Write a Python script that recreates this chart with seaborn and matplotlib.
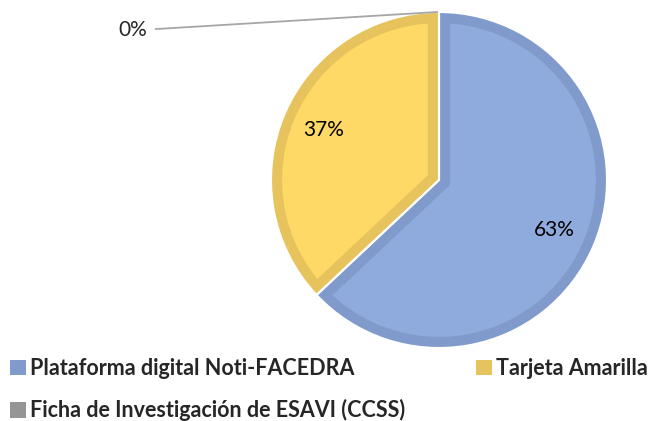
import matplotlib
matplotlib.use("Agg")
import matplotlib.pyplot as plt
from matplotlib.patches import Patch
import seaborn as sns

# data
categories = ["Plataforma digital Noti-FACEDRA", "Tarjeta Amarilla",
              "Ficha de Investigación de ESAVI (CCSS)"]
shares = [63, 37, 0]

fill_colors = ["#8FAADC", "#FFD966", "#A5A5A5"]
edge_colors = ["#7F9ACB", "#E6C35C", "#959595"]

sns.set_theme(style="white")
plt.rcParams["font.family"] = ["Lato", "DejaVu Sans"]

fig = plt.figure(figsize=(6.49, 4.21), dpi=100)
# square axes holding the pie, placed in figure fractions
ax = fig.add_axes([271 / 649, 73 / 421, 336 / 649, 336 / 421])

wedges, texts, autotexts = ax.pie(
    shares, colors=fill_colors, startangle=90, counterclock=False,
    autopct="%1.0f%%", pctdistance=0.75, radius=1.0,
    wedgeprops=dict(linewidth=0),
    textprops=dict(fontsize=15, color="#000000"),
)
# darker inner border on each wedge (stroke clipped to the wedge itself)
for w, ec in zip(wedges, edge_colors):
    w.set_edgecolor(ec)
    w.set_linewidth(16)
    w.set_clip_on(True)
    w.set_clip_path(w)
# thin white separators
ax.pie(shares, colors=["none"] * 3, startangle=90, counterclock=False,
       radius=1.0, wedgeprops=dict(linewidth=1.5, edgecolor="white"))

# the 0% label sits outside with a leader line
zero = autotexts[2]
zero.set_visible(False)
ax.annotate("0%", xy=(-0.01, 1.0), xytext=(-1.74, 0.89), fontsize=15,
            ha="right", va="center", annotation_clip=False,
            arrowprops=dict(arrowstyle="-", color="#A6A6A6", lw=1.3,
                            shrinkA=4, shrinkB=0))
ax.set_xlim(-1, 1)
ax.set_ylim(-1, 1)
ax.set_aspect("equal")
ax.axis("off")

handles = [Patch(facecolor=c, edgecolor="none") for c in edge_colors]
order = [0, 2, 1]
fig.legend([handles[i] for i in order], [categories[i] for i in order],
           ncol=2, loc="lower left", bbox_to_anchor=(-0.014, -0.047),
           frameon=False, prop=dict(weight="bold", size=15.5),
           handlelength=0.72, handleheight=0.72, handletextpad=0.2,
           labelspacing=0.95, columnspacing=3.3)

fig.savefig("out.png", dpi=100)
